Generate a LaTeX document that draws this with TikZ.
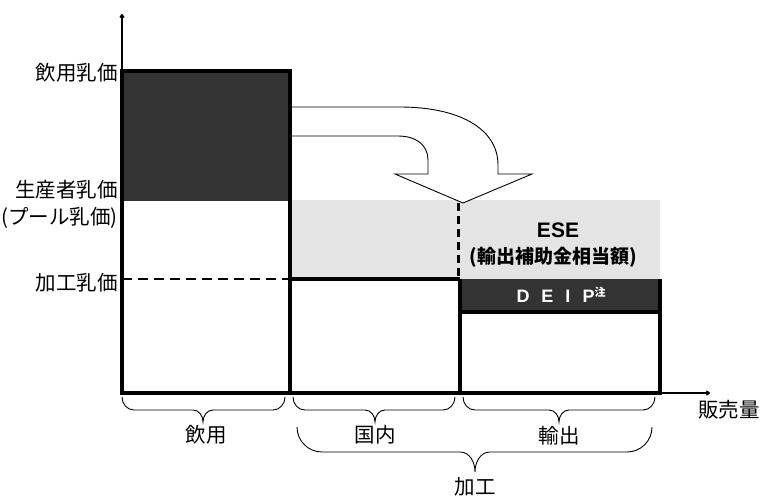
\documentclass[tikz,border=0pt]{standalone}
\usepackage{fontspec}
\setmainfont{Liberation Sans}
\newfontfamily\cjk{Noto Sans CJK JP}
\usetikzlibrary{arrows.meta}
\definecolor{darkfill}{HTML}{333333}
\definecolor{lightfill}{HTML}{E4E4E4}
\begin{document}
\begin{tikzpicture}[x=1pt,y=-1pt,
  thickline/.style={line width=4.5pt, line join=miter},
  axisline/.style={line width=1.5pt,-{To[length=4pt,width=5pt]}},
  bracepath/.style={line width=0.9pt},
  lbl/.style={font=\cjk\fontsize{20.5}{22}\selectfont, inner sep=0pt},
  boldlbl/.style={font=\cjk\bfseries\fontsize{19}{21}\selectfont, inner sep=0pt},
  latinbold/.style={font=\bfseries\fontsize{21}{23}\selectfont, inner sep=0pt},
  flowarrow/.style={draw=black, line width=0.9pt, fill=white, line join=miter}
]
\useasboundingbox (0,0) rectangle (763,496);

% key coordinates
\coordinate (O) at (122,393);
\coordinate (Ytop) at (122,14);
\coordinate (Xend) at (710,393);

% fills
\fill[lightfill] (290,200) rectangle (660,279);
\fill[darkfill] (122,71) rectangle (290,201);
\fill[darkfill] (460,279) rectangle (660,312);

% bent arrow
\draw[flowarrow] (292,107) -- (400,107)
  .. controls (458,107) and (498,128) .. (498,165)
  -- (498,174) -- (532,174) -- (463,203) -- (395,174) -- (428,174) -- (428,160)
  .. controls (428,145) and (416,136) .. (398,136) -- (292,136);

% dashed lines
\draw[line width=2.6pt, dash pattern=on 10pt off 6pt] (122,279) -- (290,279);
\draw[line width=3pt, dash pattern=on 8pt off 5pt] (458,203) -- (458,279);

% axes
\draw[axisline] (O) -- (Ytop);
\draw[axisline] (O) -- (Xend);

% thick boxes
\draw[thickline] (122,393) -- (122,71) -- (290,71) -- (290,393);
\draw[thickline] (290,279) -- (460,279);
\draw[thickline] (460,393) -- (460,279);
\draw[thickline] (660,279) -- (660,393);
\draw[thickline] (460,312) -- (660,312);
\draw[thickline] (120,393) -- (662,393);

% price labels
\node[lbl, anchor=east] (pDrink) at (118,73) {飲用乳価};
\node[lbl, anchor=east] (pProd) at (118,190) {生産者乳価};
\node[lbl, anchor=east] (pPool) at (118,218) {(プール乳価)};
\node[lbl, anchor=east] (pProc) at (118,283) {加工乳価};

% region texts
\node[latinbold] (ese) at (558,230) {ESE};
\node[boldlbl] (eseJ) at (553,257) {(輸出補助金相当額)};
\node[font=\bfseries\fontsize{18}{20}\selectfont, text=white, inner sep=0pt] (deip) at (561,295)
  {D\hspace{12pt}E\hspace{12pt}I\hspace{12pt}P\raisebox{6pt}{\cjk\bfseries\fontsize{11}{12}\selectfont 注}};

% braces
\draw[bracepath] (122,397) to[out=-90,in=180] (134,410) -- (193,410)
  to[out=0,in=90] (203,422) to[out=90,in=180] (213,410) -- (273,410) to[out=0,in=-90] (285,397);
\draw[bracepath] (293,397) to[out=-90,in=180] (305,410) -- (365,410)
  to[out=0,in=90] (375,422) to[out=90,in=180] (385,410) -- (443,410) to[out=0,in=-90] (455,397);
\draw[bracepath] (463,397) to[out=-90,in=180] (475,410) -- (549,410)
  to[out=0,in=90] (559,422) to[out=90,in=180] (569,410) -- (643,410) to[out=0,in=-90] (655,397);
\draw[bracepath] (297,427) to[out=-90,in=180] (322,452) -- (460,452)
  to[out=0,in=90] (475,472) to[out=90,in=180] (490,452) -- (627,452) to[out=0,in=-90] (652,427);

% category labels
\node[lbl] (cDrink) at (206,435) {飲用};
\node[lbl] (cDom) at (375,435) {国内};
\node[lbl] (cExp) at (559,436) {輸出};
\node[lbl] (cProc) at (475,487) {加工};
\node[lbl] (xlab) at (729,410) {販売量};
\end{tikzpicture}
\end{document}
